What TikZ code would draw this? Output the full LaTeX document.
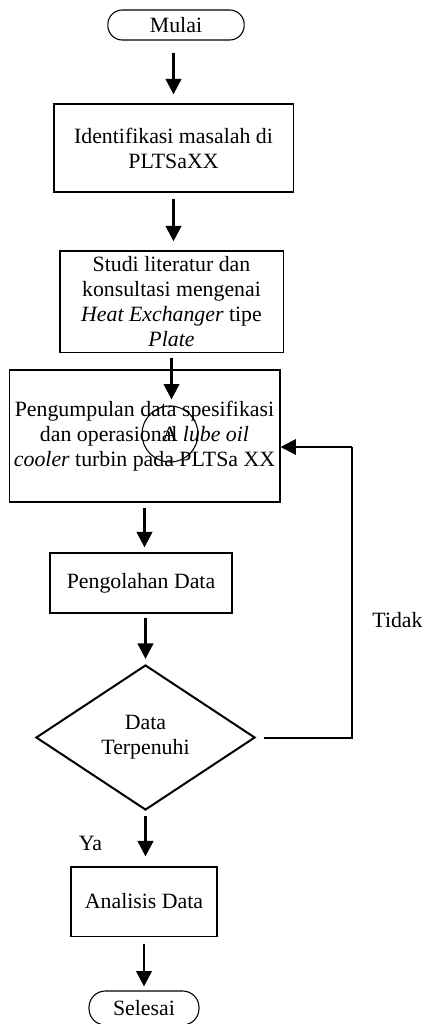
\documentclass[tikz,border=0pt]{standalone}
\usepackage{fontspec}
\setmainfont{Liberation Serif}
\usetikzlibrary{shapes.geometric,arrows.meta,positioning,calc}

\begin{document}
\begin{tikzpicture}[
    x=0.55pt, y=-0.55pt,
    font=\fontsize{12}{13.8}\selectfont,
    terminal/.style={rectangle, draw, line width=0.6pt, rounded corners=8pt, minimum height=16.5pt, inner sep=0pt},
    process/.style={rectangle, draw, line width=0.6pt, align=center, inner sep=2pt},
    decision/.style={diamond, draw, line width=1.1pt, align=center, inner sep=0pt, minimum width=120.5pt, minimum height=79.75pt},
    connector/.style={circle, draw, line width=0.6pt, minimum size=30.8pt, inner sep=0pt},
    line/.style={draw, line width=1.5pt},
    >={Triangle[width=8.5pt,length=8.5pt]}
]
\useasboundingbox (0,0) rectangle (428,1024);

% Steps
\node[terminal, minimum width=75pt] (mulai) at (176,25) {Mulai};
\node[process, minimum width=131.5pt, minimum height=48.4pt] (identifikasi) at (173.5,148) {Identifikasi masalah di\\PLTSaXX};
\node[process, minimum width=122.7pt, minimum height=55.6pt] (studi) at (171.5,301.5) {Studi literatur dan\\konsultasi mengenai\\\textit{Heat Exchanger} tipe\\\textit{Plate}};
\node[process, minimum width=149pt, minimum height=72.6pt] (pengumpulan) at (144.5,436) {Pengumpulan data spesifikasi\\dan operasional \textit{lube oil}\\\textit{cooler} turbin pada PLTSa XX};
\node[connector] (konektor) at (170,434) {A};
\node[process, minimum width=100.1pt, minimum height=33pt] (pengolahan) at (141,583) {Pengolahan Data};
\node[decision] (keputusan) at (145.5,737.5) {Data\\Terpenuhi};
\node[process, minimum width=80.3pt, minimum height=38pt] (analisis) at (144,901.5) {Analisis Data};
\node[terminal, minimum width=60.5pt, minimum height=18.7pt, rounded corners=9pt] (selesai) at (144,1008) {Selesai};

% Labels
\node (tidak) at (397.5,620) {Tidak};
\node (ya) at (90.5,843) {Ya};

% Flow
\path[line,->,shorten <=6.6pt,shorten >=5pt] (identifikasi.north |- mulai.south) -- (identifikasi.north);
\path[line,->,shorten <=3.3pt,shorten >=5pt] (identifikasi.south) -- (identifikasi.south |- studi.north);
\path[line,->,shorten <=2.8pt,shorten >=-16.5pt] (studi.south) -- (studi.south |- pengumpulan.north);
\path[line,->,shorten <=2.8pt,shorten >=2.8pt] (pengumpulan.south) -- (pengumpulan.south |- pengolahan.north);
\path[line,->,shorten <=2.2pt,shorten >=2.8pt] (keputusan.north |- pengolahan.south) -- (keputusan.north);
\path[line,->,shorten <=2.8pt,shorten >=5.5pt] (keputusan.south) -- (keputusan.south |- analisis.north);
\path[line,->,shorten <=3.8pt,shorten >=2.2pt] (analisis.south) -- (selesai.north);

% Loop back when data is incomplete
\coordinate (balik) at (352,447);
\path[draw, line width=1.1pt, shorten <=4.4pt] (keputusan.east) -- (keputusan.east -| balik) -- (balik);
\path[line, line width=1.1pt, ->] (balik) -- (balik -| pengumpulan.east);

\end{tikzpicture}
\end{document}
